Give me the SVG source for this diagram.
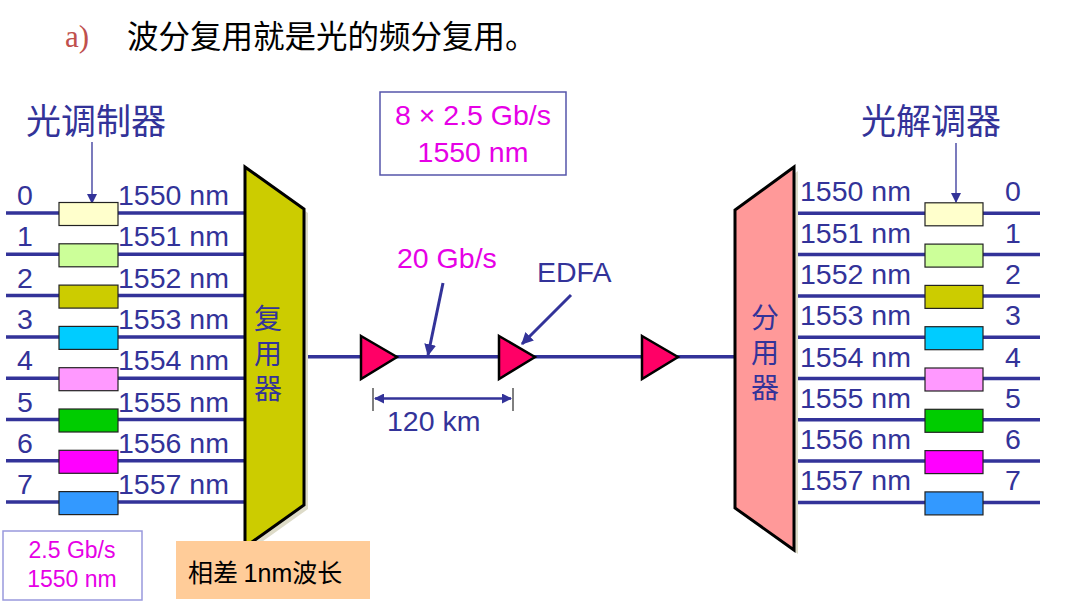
<svg xmlns="http://www.w3.org/2000/svg" width="1077" height="611" viewBox="0 0 1077 611">
<style>
.lat{font-family:"Liberation Sans",Arial,"Noto Sans CJK SC",sans-serif}
.cjk{font-family:"Noto Sans CJK SC","Noto Sans CJK JP",sans-serif}
.blue{fill:#333399}
.mag{fill:#E600E6}
.lbl{font-size:28.5px}
.vt{font-size:28px;writing-mode:vertical-rl;letter-spacing:7px}
.fib{stroke:#333399;stroke-width:3.5;fill:none}
.mod{stroke:#222;stroke-width:1.2}
.amp{fill:#FF0066;stroke:#000;stroke-width:2.5;stroke-linejoin:miter}
</style>
<defs>
<marker id="ah" viewBox="0 0 10 10" refX="9" refY="5" markerWidth="10" markerHeight="10" markerUnits="userSpaceOnUse" orient="auto"><path d="M0,0 L10,5 L0,10 z" fill="#333399"/></marker>
<marker id="ahb" viewBox="0 0 10 10" refX="9" refY="5" markerWidth="4" markerHeight="4" orient="auto"><path d="M0,0 L10,5 L0,10 z" fill="#333399"/></marker>
<marker id="ahs" viewBox="0 0 10 10" refX="1" refY="5" markerWidth="4" markerHeight="4" orient="auto"><path d="M10,0 L0,5 L10,10 z" fill="#333399"/></marker>
</defs>
<rect width="1077" height="611" fill="#fff"/>

<g id="title">
<text x="65" y="47" font-family="Liberation Serif,serif" font-size="31" fill="#C0504D">a)</text>
<text x="127" y="48" class="cjk" font-size="31.5" fill="#000">波分复用就是光的频分复用。</text>
</g>

<g id="connectors">
<path class="fib" d="M6,213 H59 M118,213 H246 M6,254.3 H59 M118,254.3 H246 M6,295.6 H59 M118,295.6 H246 M6,336.9 H59 M118,336.9 H246 M6,378.2 H59 M118,378.2 H246 M6,419.5 H59 M118,419.5 H246 M6,460.8 H59 M118,460.8 H246 M6,502.1 H59 M118,502.1 H246"/>
<path class="fib" d="M794,213.3 H925 M983,213.3 H1040 M794,254.6 H925 M983,254.6 H1040 M794,295.9 H925 M983,295.9 H1040 M794,337.2 H925 M983,337.2 H1040 M794,378.5 H925 M983,378.5 H1040 M794,419.8 H925 M983,419.8 H1040 M794,461.1 H925 M983,461.1 H1040 M794,502.4 H925 M983,502.4 H1040"/>
<path class="fib" d="M304,356.7 H736"/>
<line x1="92" y1="142" x2="92" y2="203" stroke="#333399" stroke-width="1.3" marker-end="url(#ah)"/>
<line x1="956" y1="143" x2="956" y2="202" stroke="#333399" stroke-width="1.3" marker-end="url(#ah)"/>
<line x1="443" y1="283" x2="428" y2="355" stroke="#333399" stroke-width="3" marker-end="url(#ahb)"/>
<line x1="571" y1="295" x2="522" y2="344" stroke="#333399" stroke-width="3" marker-end="url(#ahb)"/>
<line x1="373" y1="388" x2="373" y2="411" stroke="#000" stroke-width="1"/>
<line x1="513" y1="388" x2="513" y2="411" stroke="#000" stroke-width="1"/>
<line x1="375" y1="398.5" x2="511" y2="398.5" stroke="#333399" stroke-width="2.5" marker-start="url(#ahs)" marker-end="url(#ahb)"/>
</g>

<g id="mux">
<polygon points="249,171 308,213 308,509 249,551" fill="#DDDBC8"/>
<polygon points="245,167 304,209 304,505 245,547" fill="#CCCC00" stroke="#000" stroke-width="3" stroke-linejoin="miter"/>
<text x="268" y="304" class="cjk blue vt">复用器</text>
</g>

<g id="demux">
<polygon points="798,171 798,554 739,512 739,214" fill="#DDDBC8"/>
<polygon points="794,167 794,550 735,508 735,210" fill="#FF9999" stroke="#000" stroke-width="3" stroke-linejoin="miter"/>
<text x="765" y="303" class="cjk blue vt">分用器</text>
</g>

<g id="modulators">
<text x="26" y="134" class="cjk blue" font-size="35">光调制器</text>
<g class="mod">
<rect x="59" y="202.5" width="59" height="23" fill="#FFFFCC"/>
<rect x="59" y="243.8" width="59" height="23" fill="#CCFF99"/>
<rect x="59" y="285.1" width="59" height="23" fill="#CCCC00"/>
<rect x="59" y="326.4" width="59" height="23" fill="#00CCFF"/>
<rect x="59" y="367.7" width="59" height="23" fill="#FF99FF"/>
<rect x="59" y="409" width="59" height="23" fill="#00CC00"/>
<rect x="59" y="450.3" width="59" height="23" fill="#FF00FF"/>
<rect x="59" y="491.6" width="59" height="23" fill="#3399FF"/>
</g>
<g class="lat blue lbl">
<text x="25" y="205" text-anchor="middle">0</text>
<text x="25" y="246.3" text-anchor="middle">1</text>
<text x="25" y="287.6" text-anchor="middle">2</text>
<text x="25" y="328.9" text-anchor="middle">3</text>
<text x="25" y="370.2" text-anchor="middle">4</text>
<text x="25" y="411.5" text-anchor="middle">5</text>
<text x="25" y="452.8" text-anchor="middle">6</text>
<text x="25" y="494.1" text-anchor="middle">7</text>
<text x="118" y="205">1550 nm</text>
<text x="118" y="246.3">1551 nm</text>
<text x="118" y="287.6">1552 nm</text>
<text x="118" y="328.9">1553 nm</text>
<text x="118" y="370.2">1554 nm</text>
<text x="118" y="411.5">1555 nm</text>
<text x="118" y="452.8">1556 nm</text>
<text x="118" y="494.1">1557 nm</text>
</g>
</g>

<g id="demodulators">
<text x="861" y="134" class="cjk blue" font-size="35">光解调器</text>
<g class="mod">
<rect x="925" y="202.8" width="58" height="23" fill="#FFFFCC"/>
<rect x="925" y="244.1" width="58" height="23" fill="#CCFF99"/>
<rect x="925" y="285.4" width="58" height="23" fill="#CCCC00"/>
<rect x="925" y="326.7" width="58" height="23" fill="#00CCFF"/>
<rect x="925" y="368" width="58" height="23" fill="#FF99FF"/>
<rect x="925" y="409.3" width="58" height="23" fill="#00CC00"/>
<rect x="925" y="450.6" width="58" height="23" fill="#FF00FF"/>
<rect x="925" y="491.9" width="58" height="23" fill="#3399FF"/>
</g>
<g class="lat blue lbl">
<text x="1013" y="201.3" text-anchor="middle">0</text>
<text x="1013" y="242.6" text-anchor="middle">1</text>
<text x="1013" y="283.9" text-anchor="middle">2</text>
<text x="1013" y="325.2" text-anchor="middle">3</text>
<text x="1013" y="366.5" text-anchor="middle">4</text>
<text x="1013" y="407.8" text-anchor="middle">5</text>
<text x="1013" y="449.1" text-anchor="middle">6</text>
<text x="1013" y="490.4" text-anchor="middle">7</text>
<text x="800" y="201.3">1550 nm</text>
<text x="800" y="242.6">1551 nm</text>
<text x="800" y="283.9">1552 nm</text>
<text x="800" y="325.2">1553 nm</text>
<text x="800" y="366.5">1554 nm</text>
<text x="800" y="407.8">1555 nm</text>
<text x="800" y="449.1">1556 nm</text>
<text x="800" y="490.4">1557 nm</text>
</g>
</g>

<g id="amp1"><polygon class="amp" points="361,336 397,357 361,379"/></g>
<g id="amp2"><polygon class="amp" points="499,336 535,357 499,379"/></g>
<g id="amp3"><polygon class="amp" points="642,336 678,357 642,379"/></g>

<g id="labels">
<text x="397" y="268" class="lat mag lbl">20 Gb/s</text>
<text x="537" y="282" class="lat blue lbl">EDFA</text>
<text x="387" y="431" class="lat blue lbl">120 km</text>
</g>

<g id="aggregate">
<rect x="380" y="92" width="186" height="83" fill="#fff" stroke="#5555AA" stroke-width="1.5"/>
<text class="lat mag lbl" text-anchor="middle"><tspan x="473" y="125">8 × 2.5 Gb/s</tspan><tspan x="473" y="162">1550 nm</tspan></text>
</g>

<g id="channel">
<rect x="3" y="531" width="139" height="69" fill="#fff" stroke="#9999DD" stroke-width="1.5"/>
<text class="lat mag" font-size="23" text-anchor="middle"><tspan x="72" y="558">2.5 Gb/s</tspan><tspan x="72" y="587">1550 nm</tspan></text>
</g>

<g id="note">
<rect x="176" y="541" width="194" height="58" fill="#FFCC99"/>
<text x="188" y="582" font-size="25" fill="#000"><tspan class="cjk">相差 </tspan><tspan class="lat">1nm</tspan><tspan class="cjk">波长</tspan></text>
</g>
</svg>
